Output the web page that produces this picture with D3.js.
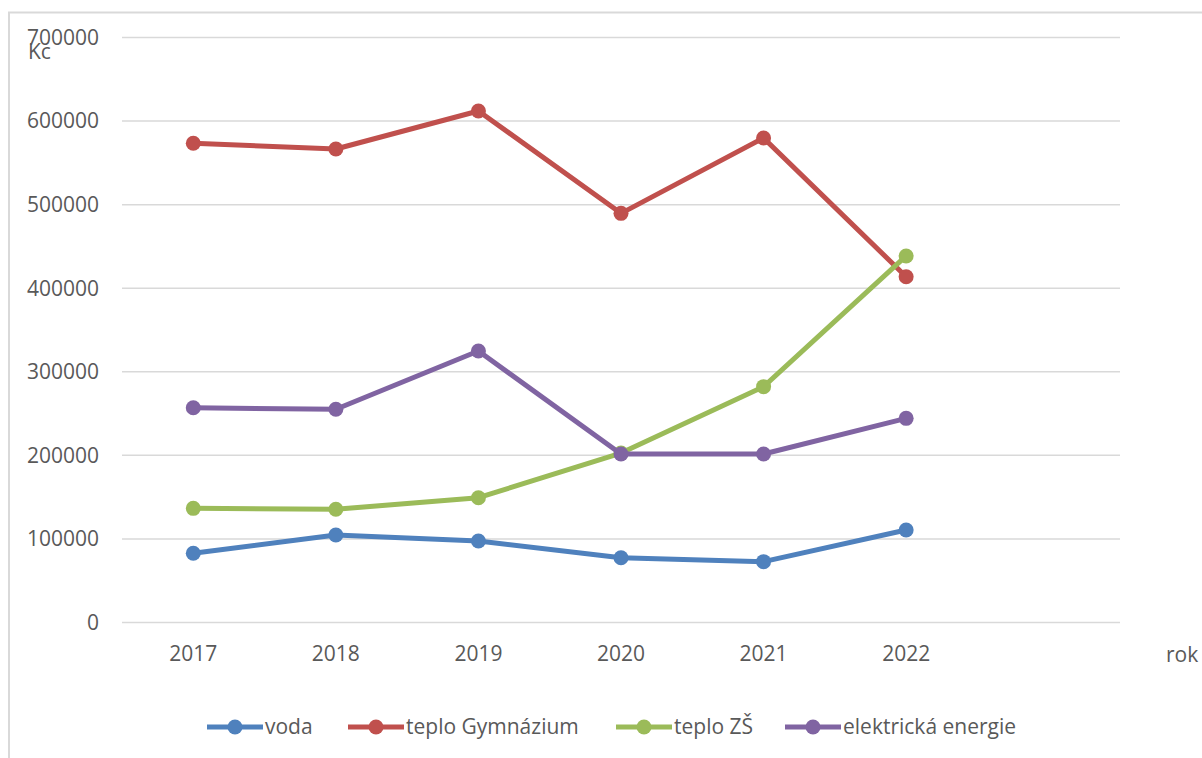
<!DOCTYPE html>
<html>
<head>
<meta charset="utf-8">
<script src="https://cdn.jsdelivr.net/npm/d3@7/dist/d3.min.js"></script>
<style>
  body { margin: 0; background: #fff; }
  svg text { font-family: "Open Sans", "Noto Sans", sans-serif; fill: #595959; }
</style>
</head>
<body>
<div id="container"></div>
<script>
// categories (the 7th slot is empty in the original chart)
const years = ["2017", "2018", "2019", "2020", "2021", "2022", ""];
const yTicks = [0, 100000, 200000, 300000, 400000, 500000, 600000, 700000];

const voda = [82200, 104100, 96900, 76900, 72200, 110100];
const teploGymnazium = [572800, 566000, 611500, 489000, 579200, 413200];
const teploZS = [136000, 134900, 148700, 202200, 281600, 438000];
const elektrickaEnergie = [256400, 254500, 324300, 201000, 201000, 243700];

const seriesNames = ["voda", "teplo Gymnázium", "teplo ZŠ", "elektrická energie"];
const seriesColors = ["#4F81BD", "#C0504D", "#9BBB59", "#8064A2"];

document.addEventListener("DOMContentLoaded", function () {
    const width = 1202;
    const height = 758;
    const fontSize = "21px";

    const svg = d3.select("#container").append("svg")
        .attr("width", width)
        .attr("height", height);

    // chart area border (only left and top are visible in the picture)
    svg.append("path")
        .attr("d", "M9,758 L9,12.5 L1202,12.5")
        .attr("fill", "none")
        .attr("stroke", "#d9d9d9")
        .attr("stroke-width", 2);

    //----------------------------SCALES-----------------------------//
    const plot = { left: 122, right: 1120, top: 37, bottom: 622 };

    const xScale = d3.scaleBand()
        .domain(years)
        .range([plot.left, plot.right]);

    const yScale = d3.scaleLinear()
        .domain([0, 700000])
        .range([plot.bottom, plot.top]);

    //-----------------------------AXES------------------------------//
    const yaxis = d3.axisLeft(yScale)
        .tickValues(yTicks)
        .tickFormat(d3.format("d"))
        .tickSize(-(plot.right - plot.left))
        .tickPadding(23);

    const gy = svg.append("g")
        .attr("transform", "translate(" + plot.left + ",0)")
        .call(yaxis);
    gy.select(".domain").remove();
    gy.selectAll(".tick line").attr("stroke", "#d9d9d9").attr("stroke-width", 1.5);
    gy.selectAll(".tick text").style("font-size", fontSize).attr("dy", "0.35em");

    const xaxis = d3.axisBottom(xScale).tickSize(0).tickPadding(24);
    const gx = svg.append("g")
        .attr("transform", "translate(0," + plot.bottom + ")")
        .call(xaxis);
    gx.select(".domain").remove();
    gx.selectAll(".tick text").style("font-size", fontSize);

    // axis titles
    svg.append("text").attr("x", 28).attr("y", 59).style("font-size", fontSize).text("Kc");
    svg.append("text").attr("x", 1166).attr("y", 662).style("font-size", fontSize).text("rok");

    //----------------------------LINES------------------------------//
    const cx = function (d, i) { return xScale(years[i]) + xScale.bandwidth() / 2; };
    const line = d3.line()
        .x(cx)
        .y(function (d) { return yScale(d); });

    const allSeries = [voda, teploGymnazium, teploZS, elektrickaEnergie];

    allSeries.forEach(function (values, k) {
        const g = svg.append("g");
        g.append("path")
            .attr("d", line(values))
            .attr("fill", "none")
            .attr("stroke", seriesColors[k])
            .attr("stroke-width", 5)
            .attr("stroke-linejoin", "round");
        g.selectAll("circle")
            .data(values)
            .enter()
            .append("circle")
            .attr("cx", cx)
            .attr("cy", function (d) { return yScale(d); })
            .attr("r", 7.5)
            .attr("fill", seriesColors[k]);
    });

    //----------------------------LEGEND-----------------------------//
    const legendX = [207, 348, 616, 785];
    const legendY = 727;
    const legend = svg.append("g");
    seriesNames.forEach(function (name, k) {
        const item = legend.append("g").attr("transform", "translate(" + legendX[k] + "," + legendY + ")");
        item.append("line")
            .attr("x1", 0).attr("x2", 56)
            .attr("stroke", seriesColors[k])
            .attr("stroke-width", 5);
        item.append("circle")
            .attr("cx", 28).attr("r", 7.5)
            .attr("fill", seriesColors[k]);
        item.append("text")
            .attr("x", 58).attr("dy", "0.35em")
            .style("font-size", fontSize)
            .text(name);
    });
});
</script>
</body>
</html>
